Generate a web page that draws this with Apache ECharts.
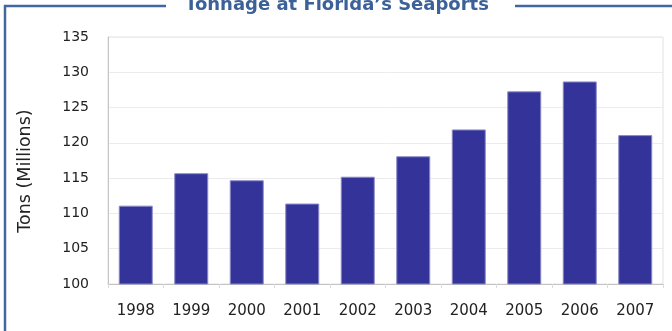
<!DOCTYPE html>
<html>
<head>
<meta charset="utf-8">
<script src="https://cdn.jsdelivr.net/npm/echarts@6/dist/echarts.min.js"></script>
<style>
  html, body { margin: 0; padding: 0; background: #fff; }
  #chart { width: 672px; height: 331px; }
</style>
</head>
<body>
<div id="chart"></div>
<script>
// Annual tonnage handled at Florida's seaports, in millions of tons
const years = ['1998', '1999', '2000', '2001', '2002', '2003', '2004', '2005', '2006', '2007'];
const tonnage = [111.1, 115.7, 114.7, 111.4, 115.2, 118.1, 121.9, 127.3, 128.7, 121.1];
const yTicks = [100, 105, 110, 115, 120, 125, 130, 135];

const frameColor = '#4267a0';
const fontFamily = '"DejaVu Sans", Verdana, sans-serif';
const chart = echarts.init(document.getElementById('chart'), null, { renderer: 'canvas' });

chart.setOption({
  animation: false,
  backgroundColor: '#fff',
  grid: {
    left: 108, right: 9, top: 37, bottom: 47,
    show: true, borderColor: '#e2e2e2', borderWidth: 1
  },
  graphic: [
    // panel frame: left edge and top edge broken by the title
    { type: 'line', shape: { x1: 5, y1: 5, x2: 5, y2: 331 }, style: { stroke: frameColor, lineWidth: 2.5 } },
    { type: 'line', shape: { x1: 4, y1: 6, x2: 166, y2: 6 }, style: { stroke: frameColor, lineWidth: 2.5 } },
    { type: 'line', shape: { x1: 515, y1: 6, x2: 672, y2: 6 }, style: { stroke: frameColor, lineWidth: 2.5 } },
    {
      type: 'text', x: 185, y: 5,
      style: {
        text: 'Tonnage at Florida’s Seaports',
        fill: '#3c6198',
        font: 'bold 18px ' + fontFamily,
        verticalAlign: 'middle'
      }
    }
  ],
  xAxis: {
    type: 'category',
    data: years,
    axisLine: { lineStyle: { color: '#c4c4c4' } },
    axisTick: { show: true, length: 4, lineStyle: { color: '#dcdcdc' } },
    axisLabel: { color: '#222', fontSize: 15, fontFamily: fontFamily, margin: 20 }
  },
  yAxis: {
    type: 'value',
    min: yTicks[0], max: yTicks[yTicks.length - 1], interval: 5,
    name: 'Tons (Millions)',
    nameLocation: 'middle',
    nameGap: 74,
    nameTextStyle: { color: '#222', fontSize: 17.5, fontFamily: fontFamily, padding: [0, 21, 0, 0] },
    axisLine: { show: true, lineStyle: { color: '#c4c4c4' } },
    axisTick: { show: false },
    splitLine: { lineStyle: { color: '#ececec' } },
    axisLabel: { color: '#222', fontSize: 14, fontFamily: fontFamily, margin: 19 }
  },
  series: [{
    type: 'bar',
    data: tonnage,
    barWidth: 34,
    itemStyle: { color: '#333399', borderColor: '#8a8ac8', borderWidth: 1 }
  }]
});
</script>
</body>
</html>
